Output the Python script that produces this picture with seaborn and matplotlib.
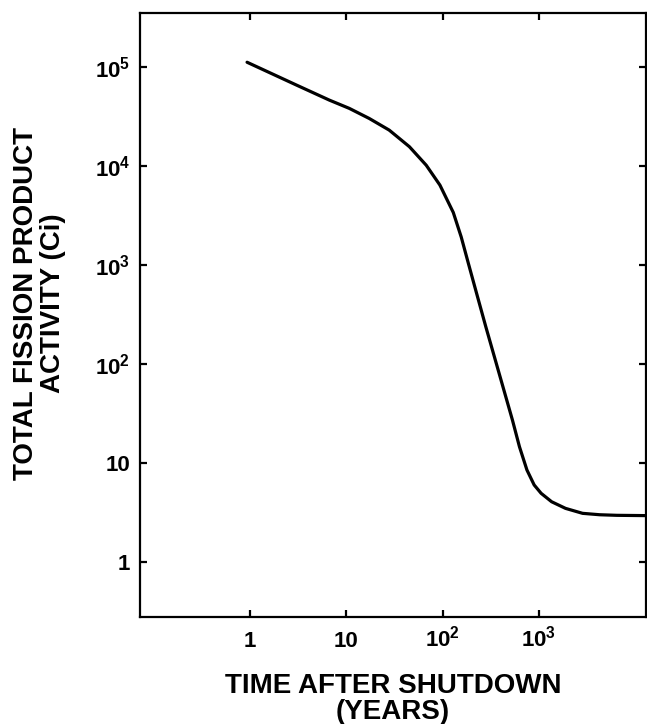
import numpy as np
import pandas as pd
import matplotlib
matplotlib.use("Agg")
import matplotlib.pyplot as plt
import seaborn as sns

# values (years, Ci)
time_years = [0.935, 3.05, 6.68, 10.75, 17.3, 27.9, 45.2, 67.6, 93.7, 129, 156,
              185, 225, 281, 385, 530, 627, 750, 891, 1052, 1352, 1884, 2833,
              4266, 6430, 12900]
activity_ci = [1.12e5, 6.58e4, 4.64e4, 3.83e4, 3.03e4, 2.31e4, 1.57e4, 1.02e4,
               6.43e3, 3.4e3, 1.92e3, 1.04e3, 519, 237, 81, 27.2, 14.6, 8.49,
               6.0, 4.94, 4.06, 3.48, 3.10, 3.0, 2.96, 2.94]

xticks = [1, 10, 100, 1000]
xtick_labels = ["1", "10", r"$10^{2}$", r"$10^{3}$"]
yticks = [1, 10, 100, 1e3, 1e4, 1e5]
ytick_labels = ["1", "10", r"$10^{2}$", r"$10^{3}$", r"$10^{4}$", r"$10^{5}$"]

df = pd.DataFrame({"time": time_years, "activity": activity_ci})

sns.set_style("ticks")
plt.rcParams["font.family"] = ["Liberation Sans", "DejaVu Sans"]
plt.rcParams["font.weight"] = "bold"
plt.rcParams["mathtext.fontset"] = "custom"
plt.rcParams["mathtext.rm"] = "Liberation Sans:bold"
plt.rcParams["mathtext.bf"] = "Liberation Sans:bold"
plt.rcParams["mathtext.it"] = "Liberation Sans:bold"
for key in ["text.color", "axes.labelcolor", "xtick.color", "ytick.color", "axes.edgecolor"]:
    plt.rcParams[key] = "black"

fig = plt.figure(figsize=(6.47, 7.24), dpi=100)
ax = fig.add_axes([0.2164, 0.1478, 0.782, 0.834])

sns.lineplot(data=df, x="time", y="activity", ax=ax, color="black", lw=2.3, sort=False)

ax.set_xscale("log")
ax.set_yscale("log")
ax.set_xlim(10 ** -1.14, 10 ** 4.11)
ax.set_ylim(10 ** -0.556, 10 ** 5.545)

ax.set_xticks(xticks)
ax.set_xticklabels(xtick_labels)
ax.set_yticks(yticks)
ax.set_yticklabels(ytick_labels)
ax.minorticks_off()

for side in ["left", "right", "top", "bottom"]:
    ax.spines[side].set_visible(True)
    ax.spines[side].set_linewidth(1.6)

ax.tick_params(axis="both", which="major", direction="in", length=5, width=1.6,
               top=True, right=True, labelsize=16)
ax.tick_params(axis="y", pad=7)
ax.tick_params(axis="x", pad=21.5)
plt.setp(ax.get_xticklabels(), va="baseline", fontweight="bold")
plt.setp(ax.get_yticklabels(), va="center_baseline", fontweight="bold")

ax.set_xlabel("TIME AFTER SHUTDOWN\n(YEARS)", fontsize=20, fontweight="bold",
              linespacing=1.0)
ax.xaxis.set_label_coords(0.5, -0.093)
ax.set_ylabel("TOTAL FISSION PRODUCT\nACTIVITY (Ci)", fontsize=20, fontweight="bold",
              linespacing=1.05)
ax.yaxis.set_label_coords(-0.146, 0.519)

fig.savefig("out.png", dpi=100)
